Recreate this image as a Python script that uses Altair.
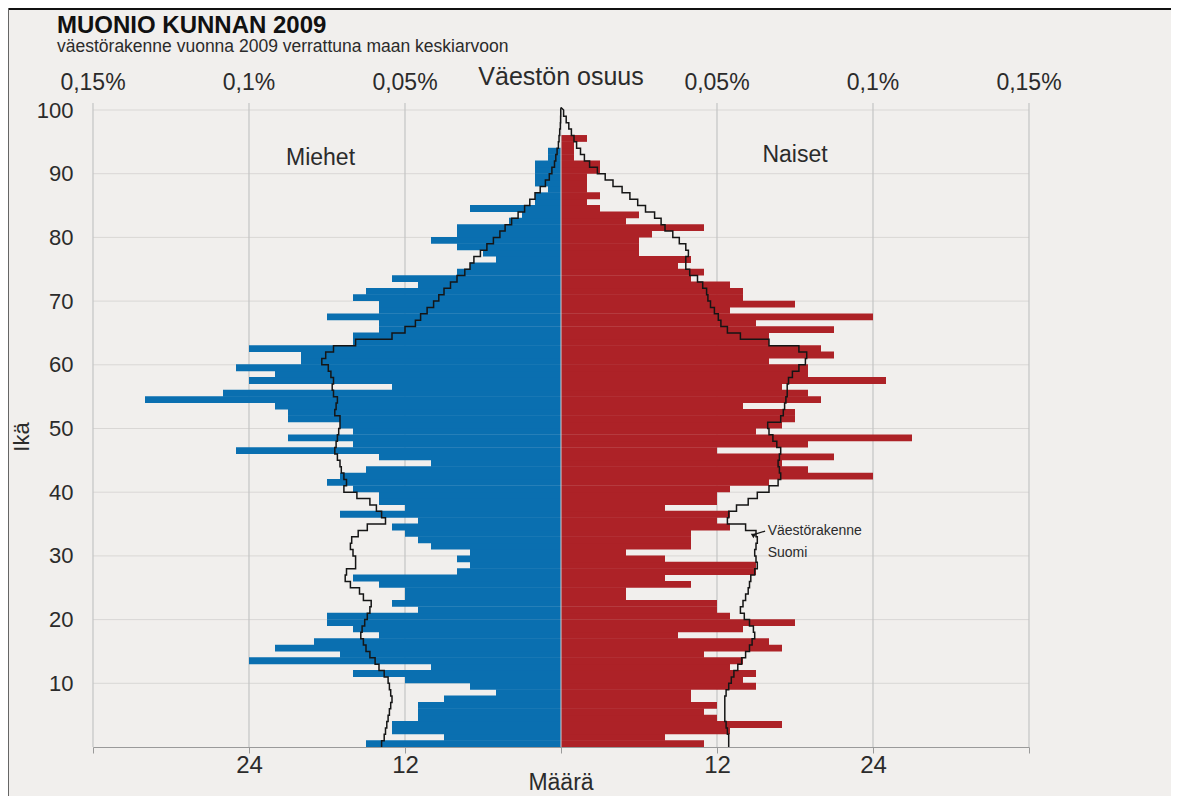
import altair as alt
import pandas as pd

# ---------------- data ----------------
ages = list(range(100))

men = [15, 9, 13, 13, 11, 11, 11, 9, 5, 7,
       12, 16, 10, 24, 17, 22, 19, 14, 16, 18,
       18, 11, 13, 12, 12, 14, 16, 8, 7, 8,
       7, 10, 11, 12, 13, 11, 17, 12, 14, 14,
       16, 18, 17, 15, 10, 14, 25, 16, 21, 16,
       17, 21, 21, 22, 32, 26, 13, 24, 22, 25,
       20, 20, 24, 16, 16, 14, 14, 18, 14, 14,
       16, 15, 11, 13, 8, 7, 5, 6, 8, 10,
       8, 8, 4, 3, 7, 2, 2, 1, 2, 2,
       2, 2, 1, 1, 0, 0, 0, 0, 0, 0]

women = [11, 8, 13, 17, 12, 11, 12, 10, 10, 15,
         14, 15, 13, 14, 11, 17, 16, 9, 14, 18,
         13, 12, 12, 5, 5, 10, 8, 15, 15, 8,
         5, 10, 10, 10, 13, 12, 13, 8, 12, 12,
         13, 16, 24, 19, 17, 21, 12, 19, 27, 15,
         17, 18, 18, 14, 20, 19, 17, 25, 19, 19,
         16, 21, 20, 16, 16, 21, 15, 24, 13, 18,
         14, 14, 13, 10, 11, 9, 10, 6, 6, 6,
         7, 11, 5, 6, 3, 2, 3, 2, 2, 2,
         3, 3, 1, 1, 1, 2, 0, 0, 0, 0]

fin_men = [13.8, 13.6, 13.5, 13.4, 13.3, 13.2, 13.1, 13.0, 13.1, 13.2,
           13.3, 13.6, 14.0, 14.3, 14.7, 15.0, 15.2, 15.4, 15.3, 15.1,
           14.9, 14.7, 14.6, 15.2, 15.5, 16.2, 16.6, 16.5, 15.8, 15.8,
           16.0, 16.2, 16.1, 15.6, 14.9, 13.5, 13.8, 14.2, 14.7, 15.7,
           16.7, 16.5, 16.7, 16.9, 17.0, 17.2, 17.4, 17.3, 17.2, 17.1,
           17.0, 17.0, 17.4, 17.3, 17.2, 17.5, 17.6, 17.5, 17.7, 17.9,
           18.4, 18.1, 17.5, 15.8, 13.0, 12.0, 11.2, 10.8, 10.3, 9.8,
           9.4, 9.0, 8.5, 8.0, 7.4, 7.0, 6.7, 6.2, 5.7, 5.2,
           4.7, 4.3, 3.8, 3.3, 2.8, 2.4, 2.0, 1.6, 1.2, 0.9,
           0.7, 0.5, 0.4, 0.3, 0.2, 0.15, 0.1, 0.05, 0.03, 0.02]

fin_women = [12.9, 12.9, 12.8, 12.7, 12.6, 12.6, 12.6, 12.6, 12.7, 12.9,
             13.1, 13.3, 13.6, 13.9, 14.2, 14.5, 14.7, 14.9, 14.8, 14.5,
             14.1, 13.8, 14.0, 14.2, 14.4, 14.5, 14.6, 14.9, 15.1, 15.0,
             14.9, 15.0, 15.1, 15.0, 14.2, 12.8, 12.9, 13.5, 14.4, 15.1,
             16.0, 16.7, 16.9, 16.8, 16.7, 16.8, 16.9, 16.6, 16.3, 16.0,
             15.9, 16.9, 17.1, 17.2, 17.3, 17.4, 17.4, 17.5, 17.8, 18.3,
             18.8, 18.9, 18.3, 16.0, 13.8, 12.8, 12.3, 12.1, 11.8, 11.5,
             11.3, 11.2, 10.9, 10.5, 9.9, 9.6, 9.6, 9.8, 9.6, 9.1,
             8.6, 8.0, 7.7, 7.2, 6.5, 5.9, 5.3, 4.7, 4.0, 3.4,
             2.8, 2.2, 1.8, 1.5, 1.2, 1.0, 0.8, 0.6, 0.4, 0.2]

grid_x = [-36, -24, -12, 12, 24, 36]
grid_age = [10, 20, 30, 40, 50, 60, 70, 80, 90, 100]
tick_x = [-36, -24, -12, 0, 12, 24, 36]
pct_pos = [-36, -24, -12, 12, 24, 36]
pct_labels = ["0,15%", "0,1%", "0,05%", "0,05%", "0,1%", "0,15%"]

# ---------------- styling ----------------
BLUE = "#0a6fb0"
RED = "#ad2227"
BG = "#f1efed"
GRID = "#c4c4c4"
TXT = "#2b2b2b"
FONT = "Liberation Sans"
W, H = 936, 637

# ---------------- tables built from the arrays ----------------
bar_rows = []
for a, m, w in zip(ages, men, women):
    bar_rows.append({"age": a, "top": a + 1.07, "v": -m, "zero": 0, "sex": "Miehet"})
    bar_rows.append({"age": a, "top": a + 1.07, "v": w, "zero": 0, "sex": "Naiset"})
bars_df = pd.DataFrame(bar_rows)

pts = []
for side, fin, sgn in (("m", fin_men, -1), ("w", fin_women, 1)):
    k = 0
    for a, f in zip(ages, fin):
        pts.append({"side": side, "k": k, "x": sgn * f, "y": a}); k += 1
        pts.append({"side": side, "k": k, "x": sgn * f, "y": a + 1}); k += 1
    pts.append({"side": side, "k": k, "x": 0, "y": 100.4})
fin_df = pd.DataFrame(pts)

X_SCALE = alt.Scale(domain=[-36, 36], nice=False, zero=False)
Y_SCALE = alt.Scale(domain=[0, 100], nice=False, zero=False)
X_AXIS = alt.Axis(values=tick_x, title=None, grid=False,
                  labelExpr="(abs(datum.value) == 12 || abs(datum.value) == 24) ? '' + abs(datum.value) : ''",
                  domainColor="#9a9a9a", tickColor="#9a9a9a", tickSize=6,
                  labelFontSize=24, labelColor=TXT, labelPadding=0, labelFont=FONT)
Y_AXIS = alt.Axis(values=grid_age, title=None, grid=False, ticks=False, tickSize=0,
                  domain=False, labelFontSize=22, labelColor=TXT, labelPadding=20,
                  labelFont=FONT)


def X(f):
    return alt.X(f, type="quantitative", scale=X_SCALE, axis=X_AXIS)


def Y(f):
    return alt.Y(f, type="quantitative", scale=Y_SCALE, axis=Y_AXIS)


hgrid = alt.Chart(pd.DataFrame({"age": grid_age})).mark_rule(
    color="#d9d7d5", strokeWidth=1).encode(
    y=Y("age"), x=alt.value(0), x2=alt.value(W))

vgrid = alt.Chart(pd.DataFrame({"x": grid_x})).mark_rule(
    color=GRID, strokeWidth=1.2).encode(
    x=X("x"), y=alt.value(-7), y2=alt.value(H))

bars = alt.Chart(bars_df).mark_bar(strokeWidth=0).encode(
    x=X("v"), x2="zero:Q", y=Y("age"), y2="top:Q",
    color=alt.Color("sex:N", scale=alt.Scale(domain=["Miehet", "Naiset"], range=[BLUE, RED]),
                    legend=None))

center = alt.Chart(pd.DataFrame({"x": [0]})).mark_rule(
    color="#cfcfcf", strokeWidth=1).encode(
    x=X("x"), y=alt.value(-2), y2=alt.value(H))

finline = alt.Chart(fin_df).mark_line(
    color="#151515", strokeWidth=1.5, strokeJoin="miter").encode(
    x=X("x"), y=Y("y"), detail="side:N", order="k:Q")

# side labels in data coordinates
side_df = pd.DataFrame({"x": [-18.5, 18.0], "y": [92.5, 93.0], "t": ["Miehet", "Naiset"]})
side_txt = alt.Chart(side_df).mark_text(
    fontSize=23, font=FONT, color=TXT, align="center", baseline="middle").encode(
    x=X("x"), y=Y("y"), text="t:N")

ann_df = pd.DataFrame({"x": [15.9, 15.9], "y": [33.9, 30.4], "t": ["Väestörakenne", "Suomi"]})
ann_txt = alt.Chart(ann_df).mark_text(
    fontSize=14, font=FONT, color=TXT, align="left", baseline="middle").encode(
    x=X("x"), y=Y("y"), text="t:N")

arrow_df = pd.DataFrame({"x": [15.7], "y": [33.9], "x2": [14.75], "y2": [33.3]})
arrow = alt.Chart(arrow_df).mark_rule(color="#151515", strokeWidth=1.2).encode(
    x=X("x"), y=Y("y"), x2="x2:Q", y2="y2:Q")
head = alt.Chart(arrow_df).mark_point(
    shape="triangle-left", filled=True, color="#151515", size=28, angle=30, opacity=1).encode(
    x=X("x2"), y=Y("y2"))

pct_df = pd.DataFrame({"x": pct_pos, "t": pct_labels})
pct_txt = alt.Chart(pct_df).mark_text(
    fontSize=23, font=FONT, color=TXT, align="center", baseline="middle").encode(
    x=X("x"), y=alt.value(-27), text="t:N")

top_title = alt.Chart(pd.DataFrame({"x": [0], "t": ["Väestön osuus"]})).mark_text(
    fontSize=25, font=FONT, color=TXT, align="center", baseline="middle").encode(
    x=X("x"), y=alt.value(-33), text="t:N")

bottom_title = alt.Chart(pd.DataFrame({"x": [0], "t": ["Määrä"]})).mark_text(
    fontSize=23, font=FONT, color=TXT, align="center", baseline="middle").encode(
    x=X("x"), y=alt.value(H + 36), text="t:N")

ika = alt.Chart(pd.DataFrame({"t": ["Ikä"]})).mark_text(
    fontSize=22, font=FONT, color=TXT, align="center", baseline="middle", angle=270).encode(
    x=alt.value(-71), y=alt.value(327), text="t:N")

title = alt.Chart(pd.DataFrame({"t": ["MUONIO KUNNAN 2009"]})).mark_text(
    fontSize=24, font="Liberation Sans Narrow, Liberation Sans", fontWeight="bold",
    color="#111111", align="left", baseline="alphabetic").encode(
    x=alt.value(-36), y=alt.value(-77), text="t:N")

subtitle = alt.Chart(pd.DataFrame({"t": ["väestörakenne vuonna 2009 verrattuna maan keskiarvoon"]})).mark_text(
    fontSize=17.5, font=FONT, color=TXT, align="left", baseline="alphabetic").encode(
    x=alt.value(-36), y=alt.value(-58), text="t:N")

frame_top = alt.Chart(pd.DataFrame({"t": [0]})).mark_rule(color="#111111", strokeWidth=2).encode(
    x=alt.value(-85), x2=alt.value(W + 142), y=alt.value(-101))
frame_left = alt.Chart(pd.DataFrame({"t": [0]})).mark_rule(color="#666666", strokeWidth=1).encode(
    x=alt.value(-84.5), y=alt.value(-102), y2=alt.value(H + 49))

chart = alt.layer(
    hgrid, vgrid, bars, center, finline, side_txt, ann_txt, arrow, head,
    pct_txt, top_title, bottom_title, ika, title, subtitle, frame_top, frame_left
).properties(
    width=W, height=H,
    autosize=alt.AutoSizeParams(type="none"),
    padding={"left": 85, "top": 102, "right": 142, "bottom": 49},
    background=BG,
).configure_view(stroke=None)

chart.save("out.html", embed_options={"renderer": "svg", "actions": False})
